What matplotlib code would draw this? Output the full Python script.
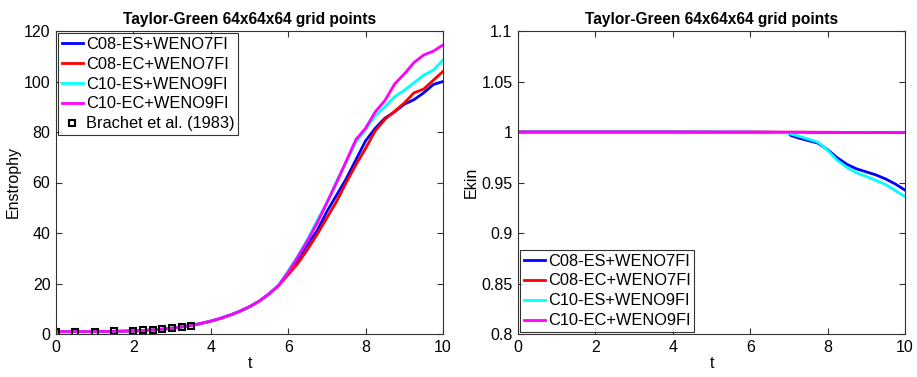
import matplotlib
matplotlib.use("Agg")
import matplotlib.pyplot as plt

plt.rcParams['font.family'] = ['Liberation Sans', 'DejaVu Sans']

# ---- Enstrophy data ----
t_ens = [0, 0.25, 0.5, 0.75, 1.0, 1.25, 1.5, 1.75, 2.0, 2.25, 2.5, 2.75, 3.0, 3.25, 3.5,
         3.75, 4.0, 4.25, 4.5, 4.75, 5.0, 5.25, 5.5, 5.75, 6.0, 6.25, 6.5, 6.75, 7.0,
         7.25, 7.5, 7.75, 8.0, 8.25, 8.5, 8.75, 9.0, 9.25, 9.5, 9.75, 10.0]
ens_early = [0.95, 0.95, 0.96, 0.97, 0.98, 1.0, 1.05, 1.12, 1.22, 1.38, 1.6, 1.9, 2.3, 2.8, 3.4,
             4.2, 5.1, 6.2, 7.5, 9.0, 10.8, 13.0, 15.8, 19.2]
ens_c08_es = ens_early + [24, 29.5, 35.5, 41, 48.5, 55, 61.5, 69, 76.5, 81.5, 85.5, 88, 91, 92.8, 95.5, 98.8, 100]
ens_c08_ec = ens_early + [23.5, 28, 33.5, 39.5, 46, 52.5, 60, 67, 73.5, 80.5, 85, 88.2, 91.5, 95.5, 97, 100.5, 104]
ens_c10_es = ens_early + [25, 31, 37.5, 45, 52, 60.5, 68, 76, 81, 86.5, 90, 94, 96.5, 99.5, 102.5, 104.5, 108.5]
ens_c10_ec = ens_early + [24.5, 30.5, 37, 44, 52, 60, 68.5, 77, 81.5, 88, 92.5, 99, 103, 107.5, 110.5, 112, 114.5]

t_brachet = [0, 0.5, 1.0, 1.5, 2.0, 2.25, 2.5, 2.75, 3.0, 3.25, 3.5]
ens_brachet = [0.9, 0.95, 0.95, 1.1, 1.3, 1.5, 1.75, 2.1, 2.4, 2.8, 3.3]

# ---- Kinetic energy data ----
t_ek = [0, 1, 2, 3, 4, 5, 6, 6.5, 7, 7.05, 7.25, 7.5, 7.75, 8, 8.25, 8.5, 8.75, 9, 9.25, 9.5, 9.75, 10]
ek_c08_es = [1, 1, 1, 1, 1, 0.9999, 0.9998, 0.9997, 0.9995, 0.9965, 0.994, 0.9915, 0.989, 0.9825,
             0.9745, 0.968, 0.9635, 0.9605, 0.9575, 0.9535, 0.9485, 0.9425]
ek_c08_ec = [1, 1, 1, 1, 1, 0.9999, 0.9999, 0.9998, 0.9998, 0.9998, 0.9998, 0.9997, 0.9997, 0.9997,
             0.9996, 0.9996, 0.9996, 0.9995, 0.9995, 0.9995, 0.9994, 0.9994]
ek_c10_es = [1, 1, 1, 1, 1, 0.9999, 0.9998, 0.9997, 0.999, 0.998, 0.996, 0.993, 0.990, 0.982,
             0.972, 0.965, 0.9595, 0.956, 0.952, 0.948, 0.942, 0.936]
ek_c10_ec = [1, 1, 1, 1, 1, 0.9999, 0.9999, 0.9999, 0.9998, 0.9998, 0.9998, 0.9998, 0.9997, 0.9997,
             0.9997, 0.9996, 0.9996, 0.9996, 0.9995, 0.9995, 0.9995, 0.9995]

labels = ['C08-ES+WENO7FI', 'C08-EC+WENO7FI', 'C10-ES+WENO9FI', 'C10-EC+WENO9FI']
colors = ['#0000ff', '#ff0000', '#00ffff', '#ff00ff']
title = 'Taylor-Green 64x64x64 grid points'

fig = plt.figure(figsize=(9.17, 3.77), dpi=100)
ax1 = fig.add_axes([56/917, 43/377, 387/917, 303/377])
ax2 = fig.add_axes([518/917, 43/377, 387/917, 303/377])

fs = 11.5
lw = 2.0

def style(ax):
    ax.tick_params(direction='in', top=True, right=True, labelsize=fs, length=4,
                   color='#333333', pad=4)
    for s in ax.spines.values():
        s.set_color('#333333')
        s.set_linewidth(0.8)
    ax.set_xlim(0, 10)
    ax.set_xticks([0, 2, 4, 6, 8, 10])
    ax.set_xlabel('t', fontsize=fs, labelpad=1)
    ax.set_title(title, fontsize=11.2, fontweight='bold', pad=5)

for y, lab, c in zip([ens_c08_es, ens_c08_ec, ens_c10_es, ens_c10_ec], labels, colors):
    ax1.plot(t_ens, y, color=c, lw=lw, label=lab)
ax1.plot(t_brachet, ens_brachet, linestyle='none', marker='s', markersize=5,
         markerfacecolor='none', markeredgecolor='black', markeredgewidth=1.5,
         label='Brachet et al. (1983)')
style(ax1)
ax1.set_ylim(0, 120)
ax1.set_yticks([0, 20, 40, 60, 80, 100, 120])
ax1.set_ylabel('Enstrophy', fontsize=fs, labelpad=2)
leg1 = ax1.legend(loc='upper left', fontsize=11.8, frameon=True, fancybox=False,
                  edgecolor='black', handlelength=1.3, handletextpad=0.2,
                  borderaxespad=0.15, labelspacing=0.3, borderpad=0.2)
leg1.get_frame().set_linewidth(0.8)

for y, lab, c in zip([ek_c08_es, ek_c08_ec, ek_c10_es, ek_c10_ec], labels, colors):
    ax2.plot(t_ek, y, color=c, lw=lw, label=lab)
style(ax2)
ax2.set_ylim(0.8, 1.1)
ax2.set_yticks([0.8, 0.85, 0.9, 0.95, 1.0, 1.05, 1.1])
ax2.set_yticklabels(['0.8', '0.85', '0.9', '0.95', '1', '1.05', '1.1'])
ax2.set_ylabel('Ekin', fontsize=fs, labelpad=2)
leg2 = ax2.legend(loc='lower left', fontsize=11.8, frameon=True, fancybox=False,
                  edgecolor='black', handlelength=1.3, handletextpad=0.2,
                  borderaxespad=0.15, labelspacing=0.3, borderpad=0.2)
leg2.get_frame().set_linewidth(0.8)

fig.savefig('out.png', dpi=100)
